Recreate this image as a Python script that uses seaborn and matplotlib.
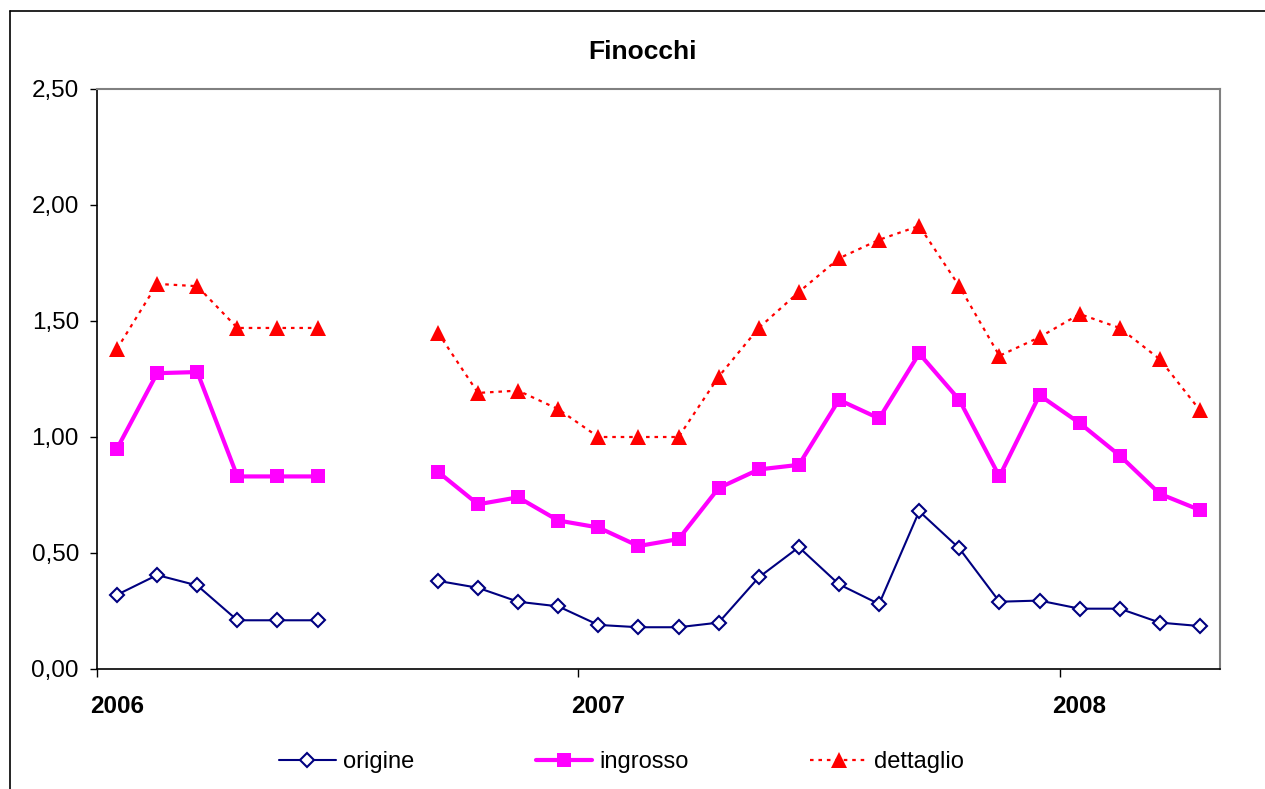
import numpy as np
import pandas as pd
import matplotlib
matplotlib.use("Agg")
import matplotlib.pyplot as plt
from matplotlib.lines import Line2D
from matplotlib.ticker import FuncFormatter
import seaborn as sns

# ---- data ----
months = ["gen06", "feb06", "mar06", "apr06", "mag06", "giu06", "lug06", "ago06",
          "set06", "ott06", "nov06", "dic06",
          "gen07", "feb07", "mar07", "apr07", "mag07", "giu07", "lug07", "ago07",
          "set07", "ott07", "nov07", "dic07",
          "gen08", "feb08", "mar08", "apr08"]
origine = [0.32, 0.405, 0.36, 0.21, 0.21, 0.21, None, None,
           0.38, 0.35, 0.29, 0.27,
           0.19, 0.18, 0.18, 0.20, 0.395, 0.525, 0.365, 0.28,
           0.68, 0.52, 0.29, 0.295,
           0.26, 0.26, 0.20, 0.185]
ingrosso = [0.95, 1.275, 1.28, 0.83, 0.83, 0.83, None, None,
            0.85, 0.71, 0.74, 0.64,
            0.61, 0.53, 0.56, 0.78, 0.86, 0.88, 1.16, 1.08,
            1.36, 1.16, 0.83, 1.18,
            1.06, 0.92, 0.755, 0.685]
dettaglio = [1.38, 1.66, 1.65, 1.47, 1.47, 1.47, None, None,
             1.45, 1.19, 1.20, 1.12,
             1.00, 1.00, 1.00, 1.26, 1.47, 1.625, 1.77, 1.85,
             1.91, 1.65, 1.35, 1.43,
             1.53, 1.47, 1.335, 1.115]
year_labels = ["2006", "2007", "2008"]
series_names = ["origine", "ingrosso", "dettaglio"]

sns.set_theme(style="white")
plt.rcParams["font.family"] = ["Liberation Sans", "DejaVu Sans"]
plt.rcParams["text.color"] = "black"
plt.rcParams["axes.labelcolor"] = "black"
plt.rcParams["xtick.color"] = "black"
plt.rcParams["ytick.color"] = "black"

W, H = 1265, 789
fig = plt.figure(figsize=(W / 100, H / 100), dpi=100)
ax = fig.add_axes([97 / W, 1 - 669 / H, (1220 - 97) / W, (669 - 89) / H])

styles = {
    "origine": dict(color="#000080", marker="D", markersize=7.3, mfc="white",
                    mec="#000080", mew=1.5, lw=1.5, ls="-"),
    "ingrosso": dict(color="#FF00FF", marker="s", markersize=10, mfc="#FF00FF",
                     mec="#FF00FF", mew=0, lw=3, ls="-"),
    "dettaglio": dict(color="#FF0000", marker="^", markersize=11, mfc="#FF0000",
                      mec="#FF0000", mew=0, lw=1.6, ls=(0, (1.6, 2.2))),
}

x_all = np.arange(len(months))
for name, vals in zip(series_names, [origine, ingrosso, dettaglio]):
    v = pd.Series(vals, dtype="float")
    seg = v.isna().cumsum()
    df = pd.DataFrame({"x": x_all, "y": v, "seg": seg}).dropna()
    st = styles[name]
    for _, part in df.groupby("seg"):
        sns.lineplot(data=part, x="x", y="y", ax=ax, color=st["color"],
                     marker=st["marker"], markersize=st["markersize"],
                     markerfacecolor=st["mfc"], markeredgecolor=st["mec"],
                     markeredgewidth=st["mew"], linewidth=st["lw"],
                     linestyle=st["ls"], estimator=None, legend=False,
                     clip_on=False)

ax.set_xlim(-0.5, len(months) - 0.5)
ax.set_ylim(0, 2.5)
ax.set_xlabel("")
ax.set_ylabel("")

ax.set_yticks(np.arange(0, 2.51, 0.5))
ax.yaxis.set_major_formatter(FuncFormatter(lambda v, p: f"{v:.2f}".replace(".", ",")))
ax.tick_params(axis="y", which="major", direction="out", length=5, width=1,
               color="black", labelcolor="black", labelsize=17.5, pad=8, left=True)

ax.set_xticks([-0.5, 11.5, 23.5])
ax.set_xticklabels(["", "", ""])
ax.set_xticks([0, 12, 24], minor=True)
ax.set_xticklabels(year_labels, minor=True, fontweight="bold", fontsize=17.5,
                   color="black")
ax.tick_params(axis="x", which="major", direction="out", length=6, width=1,
               color="black", bottom=True)
ax.tick_params(axis="x", which="minor", length=0, pad=19, bottom=True)

for s in ["left", "bottom"]:
    ax.spines[s].set_color("black")
    ax.spines[s].set_linewidth(1.2)
for s in ["top", "right"]:
    ax.spines[s].set_color("#808080")
    ax.spines[s].set_linewidth(1.5)
ax.grid(False)

fig.text(643 / W, 1 - 52 / H, "Finocchi", ha="center", va="center",
         fontsize=19, fontweight="bold", color="black")

handles = []
for name in series_names:
    st = styles[name]
    handles.append(Line2D([0], [0], color=st["color"], marker=st["marker"],
                          markersize=st["markersize"], markerfacecolor=st["mfc"],
                          markeredgecolor=st["mec"], markeredgewidth=st["mew"],
                          linewidth=st["lw"], linestyle=st["ls"]))
leg = fig.legend(handles, series_names, loc="center",
                 bbox_to_anchor=(621.5 / W, 1 - 762 / H),
                 ncol=3, frameon=False, fontsize=17, handlelength=2.4,
                 handletextpad=0.3, columnspacing=5.15)
for t in leg.get_texts():
    t.set_color("black")

# chart area border (left and top edges visible)
fig.add_artist(Line2D([10 / W, 10 / W], [0, 1 - 11 / H], transform=fig.transFigure,
                      color="black", lw=1.2))
fig.add_artist(Line2D([10 / W, 1], [1 - 11 / H, 1 - 11 / H], transform=fig.transFigure,
                      color="black", lw=1.2))

fig.savefig("out.png", dpi=100, facecolor="white")
